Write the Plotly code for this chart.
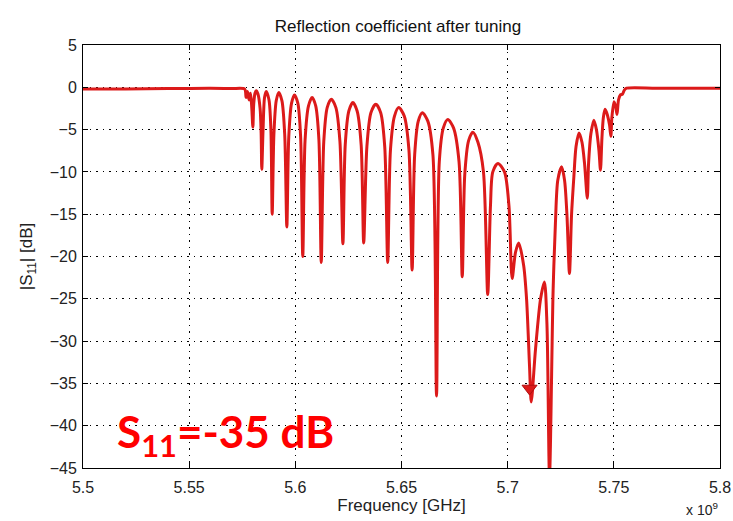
import plotly.graph_objects as go

# Frequency in GHz (axis shows x 10^9 Hz) and |S11| in dB
freq = [5.5000, 5.5200, 5.5400, 5.5600, 5.5700,
        5.5761, 5.5768, 5.5775, 5.5782, 5.5789, 5.5795, 5.5800, 5.5804, 5.5810, 5.5816,
        5.5824, 5.5834, 5.5839, 5.5842, 5.5848, 5.5855, 5.5863, 5.5876, 5.5885, 5.5891,
        5.5899, 5.5910, 5.5922, 5.5937, 5.5950, 5.5960,
        5.5969, 5.5982, 5.5996, 5.6012, 5.6025, 5.6035,
        5.6046, 5.6062, 5.6079, 5.6096, 5.6111, 5.6122,
        5.6134, 5.6150, 5.6169, 5.6191, 5.6210, 5.6224,
        5.6235, 5.6252, 5.6271, 5.6291, 5.6310, 5.6322,
        5.6337, 5.6356, 5.6379, 5.6402, 5.6421, 5.6435,
        5.6448, 5.6467, 5.6487, 5.6513, 5.6535, 5.6550,
        5.6562, 5.6579, 5.6598, 5.6624, 5.6648, 5.6665,
        5.6678, 5.6697, 5.6718, 5.6745, 5.6771, 5.6786,
        5.6798, 5.6816, 5.6836, 5.6860, 5.6886, 5.6906,
        5.6919, 5.6930, 5.6954, 5.6985, 5.7006, 5.7021,
        5.7037, 5.7052, 5.7075, 5.7089, 5.7103, 5.7111,
        5.7131, 5.7155, 5.7173, 5.7185, 5.7197,
        5.7214, 5.7225, 5.7236, 5.7254, 5.7268, 5.7279, 5.7291,
        5.7301, 5.7312, 5.7322, 5.7336, 5.7350, 5.7362, 5.7375,
        5.7381, 5.7392, 5.7406, 5.7418, 5.7430, 5.7437,
        5.7444, 5.7451, 5.7459, 5.7470, 5.7480, 5.7486,
        5.7491, 5.7501, 5.7509, 5.7515,
        5.7522, 5.7531, 5.7541, 5.7550, 5.7560, 5.7700, 5.7900, 5.8000]

s11_db = [-0.2, -0.2, -0.15, -0.1, -0.15,
          -0.2, -1.2, -0.5, -1.5, -0.7, -2.5, -4.7, -2.0, -0.7, -0.4,
          -0.8, -2.5, -5.5, -9.7, -5.0, -1.2, -0.5, -1.5, -5.0, -15.0,
          -5.6, -1.6, -0.6, -1.6, -5.6, -16.5,
          -5.9, -1.9, -0.9, -1.9, -5.9, -20.0,
          -6.2, -2.2, -1.2, -2.2, -6.2, -20.7,
          -6.4, -2.4, -1.4, -2.4, -6.4, -18.5,
          -6.8, -2.8, -1.8, -2.8, -6.8, -18.4,
          -7.0, -3.0, -2.0, -3.0, -7.0, -20.7,
          -7.4, -3.4, -2.4, -3.4, -7.4, -21.6,
          -8.0, -4.0, -3.0, -4.0, -8.0, -36.5,
          -8.8, -4.8, -3.8, -4.8, -8.8, -22.4,
          -10.3, -6.3, -5.3, -6.5, -10.0, -24.5,
          -14.0, -10.0, -9.0, -10.0, -14.0, -22.6,
          -19.5, -18.4, -21.0, -25.0, -33.0, -37.2,
          -31.0, -25.0, -23.0, -28.0, -46.0,
          -24.0, -16.0, -11.0, -9.4, -11.0, -15.0, -22.0,
          -15.0, -10.5, -7.0, -5.4, -6.5, -9.0, -13.1,
          -9.0, -5.5, -3.9, -5.0, -7.5, -9.8,
          -6.0, -3.5, -2.6, -3.3, -4.5, -5.8,
          -3.5, -1.7, -2.3, -3.2,
          -1.5, -0.9, -0.8, -0.3, -0.1, -0.1, -0.1, -0.1]

marker_freq = [5.7103]
marker_db = [-35.6]

x_ticks = [5.5, 5.55, 5.6, 5.65, 5.7, 5.75, 5.8]
x_labels = ["5.5", "5.55", "5.6", "5.65", "5.7", "5.75", "5.8"]
y_ticks = [5, 0, -5, -10, -15, -20, -25, -30, -35, -40, -45]

RED = "#dc1a1a"
FONT = "Liberation Sans"
TXT = "#222222"

fig = go.Figure()
fig.add_trace(go.Scatter(x=freq, y=s11_db, mode="lines",
                         line=dict(color=RED, width=3, shape="spline", smoothing=0.8),
                         showlegend=False, hoverinfo="skip"))
fig.add_trace(go.Scatter(x=marker_freq, y=marker_db, mode="markers",
                         marker=dict(symbol="triangle-down", size=13, color=RED,
                                     line=dict(color="#b01010", width=1)),
                         showlegend=False, hoverinfo="skip"))

axis_common = dict(showline=True, linecolor="black", linewidth=1, mirror="ticks",
                   ticks="inside", ticklen=5, tickcolor="black",
                   showgrid=True, gridcolor="black", gridwidth=1, griddash="1.5px,5px",
                   zeroline=False, automargin=False,
                   tickfont=dict(family=FONT, size=16, color=TXT))

fig.update_xaxes(range=[5.5, 5.8], tickvals=x_ticks, ticktext=x_labels,
                 ticklabelstandoff=5,
                 title=dict(text="Frequency [GHz]", font=dict(family=FONT, size=17, color=TXT),
                            standoff=3),
                 **axis_common)
fig.update_yaxes(range=[-45, 5], tickvals=y_ticks, ticklabelstandoff=2,
                 title=dict(text="|S<sub>11</sub>| [dB]", font=dict(family=FONT, size=17, color=TXT),
                            standoff=12),
                 **axis_common)

fig.update_layout(
    width=733, height=521,
    margin=dict(l=83, r=13, t=45, b=53),
    paper_bgcolor="white", plot_bgcolor="white",
    title=dict(text="Reflection coefficient after tuning", x=0.543, xanchor="center",
               y=0.95, yanchor="middle", font=dict(family=FONT, size=17, color="#111")),
    annotations=[
        dict(text="S<sub>11</sub>=-35 dB", x=0.05, y=0.08, xref="paper", yref="paper",
             xanchor="left", yanchor="middle", showarrow=False,
             font=dict(family="Lato", size=44, color="#ff0000", weight="bold")),
        dict(text="x 10<sup>9</sup>", x=1.0, y=-0.097, xref="paper", yref="paper",
             xanchor="right", yanchor="middle", showarrow=False,
             font=dict(family=FONT, size=14, color=TXT)),
    ],
)

fig.write_html("out.html")
